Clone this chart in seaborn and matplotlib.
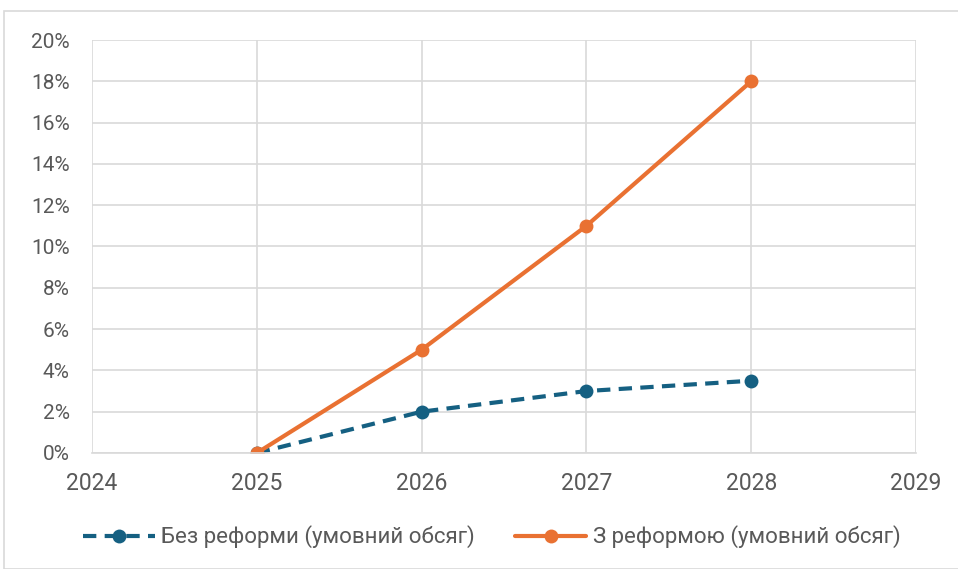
import pandas as pd
import seaborn as sns
import matplotlib.pyplot as plt
from matplotlib.patches import Rectangle
from matplotlib.ticker import PercentFormatter

years = [2025, 2026, 2027, 2028]
no_reform = [0.0, 2.0, 3.0, 3.5]
with_reform = [0.0, 5.0, 11.0, 18.0]
label_no = 'Без реформи (умовний обсяг)'
label_with = 'З реформою (умовний обсяг)'
x_ticks = [2024, 2025, 2026, 2027, 2028, 2029]
y_ticks = list(range(0, 21, 2))

df = pd.DataFrame({
    'Year': years * 2,
    'Value': no_reform + with_reform,
    'Series': [label_no] * len(years) + [label_with] * len(years),
})

sns.set_style('white')
plt.rcParams['font.family'] = ['Roboto', 'DejaVu Sans']
text_color = '#595959'
grid_color = '#d9d9d9'

fig = plt.figure(figsize=(9.58, 5.69), dpi=100)
ax = fig.add_axes([92 / 958, 1 - 453 / 569, (916 - 92) / 958, (453 - 40) / 569])

# chart border
fig.patches.append(Rectangle((4 / 958, 0), 1.0, 1 - 11 / 569, transform=fig.transFigure,
                             fill=False, edgecolor=grid_color, linewidth=1.2, zorder=0))

sns.lineplot(data=df[df['Series'] == label_no], x='Year', y='Value', ax=ax,
             color='#156082', linewidth=3, linestyle=(0, (3.2, 2)), marker='o',
             markersize=10, markeredgewidth=0, label=label_no)
sns.lineplot(data=df[df['Series'] == label_with], x='Year', y='Value', ax=ax,
             color='#E97132', linewidth=3, marker='o', markersize=10,
             markeredgewidth=0, label=label_with)

ax.set_xlim(2024, 2029)
ax.set_ylim(0, 20)
ax.set_xticks(x_ticks)
ax.set_yticks(y_ticks)
ax.yaxis.set_major_formatter(PercentFormatter(decimals=0))
ax.grid(True, color=grid_color, linewidth=1.2)
ax.set_axisbelow(True)
for side in ['top', 'right', 'left']:
    ax.spines[side].set_visible(False)
ax.spines['bottom'].set_color(grid_color)
ax.spines['bottom'].set_linewidth(1.2)
ax.set_xlabel('')
ax.set_ylabel('')
ax.tick_params(axis='both', length=0, labelcolor=text_color)
ax.tick_params(axis='x', labelsize=16.5, pad=14)
ax.tick_params(axis='y', labelsize=15, pad=16)
for t in ax.get_xticklabels() + ax.get_yticklabels():
    t.set_clip_on(False)

ax.legend(loc='center', bbox_to_anchor=(492 / 958, 1 - 537 / 569),
          bbox_transform=fig.transFigure, ncol=2, frameon=False,
          fontsize=16, labelcolor=text_color, handlelength=3.2, columnspacing=1.8,
          handletextpad=0.3)

fig.savefig('out.png', dpi=100)
